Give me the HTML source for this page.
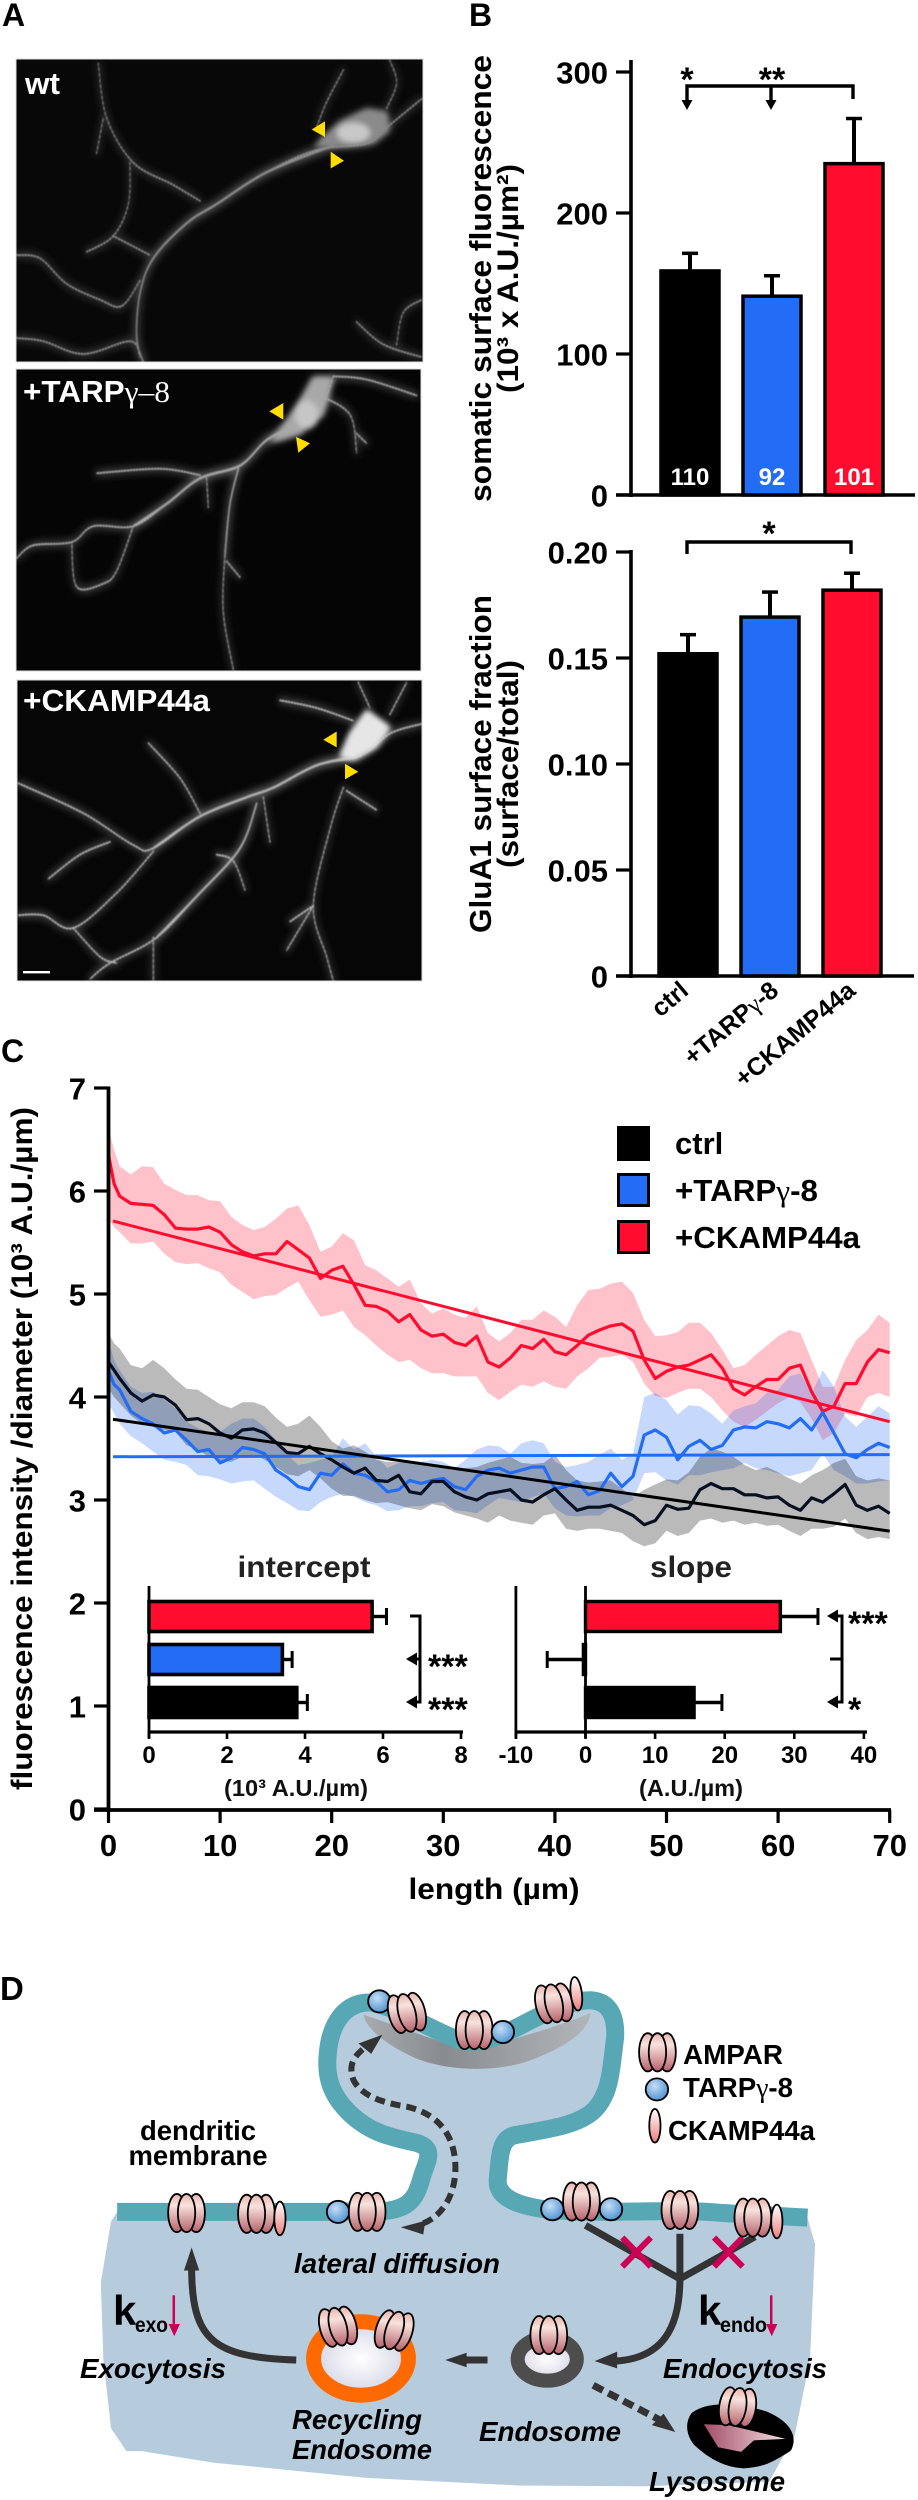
<!DOCTYPE html>
<html lang="en">
<head>
<meta charset="utf-8">
<title>Surface AMPA receptor figure</title>
<style>
html,body{margin:0;padding:0;background:#fff;width:918px;height:2500px;overflow:hidden}
svg{display:block;position:absolute;left:0;top:0}
text{font-family:"Liberation Sans",Arial,sans-serif;font-weight:bold;fill:#000}
.gam{font-family:"Liberation Serif",serif;font-weight:normal}
.ns{vector-effect:non-scaling-stroke}
.ns *{vector-effect:non-scaling-stroke}
</style>
</head>
<body>
<svg id="fig" xmlns="http://www.w3.org/2000/svg" width="918" height="2500" viewBox="0 0 918 2500">
<defs>
  <filter id="blurSoft" x="-10%" y="-10%" width="120%" height="120%"><feGaussianBlur stdDeviation="0.9"/></filter>
  <filter id="blurGlow" x="-10%" y="-10%" width="120%" height="120%"><feGaussianBlur stdDeviation="4"/></filter>
  <filter id="blurSoma" x="-30%" y="-30%" width="160%" height="160%"><feGaussianBlur stdDeviation="2.6"/></filter>
  <clipPath id="clipWt"><rect x="16" y="59" width="407" height="303"/></clipPath>
  <clipPath id="clipTarp"><rect x="16" y="369" width="405" height="302"/></clipPath>
  <clipPath id="clipCk"><rect x="17" y="680" width="405" height="301"/></clipPath>
  <linearGradient id="gAmpar" x1="0" y1="0" x2="0" y2="1"><stop offset="0" stop-color="#e8b4ac"/><stop offset=".3" stop-color="#f8e2dc"/><stop offset="1" stop-color="#b5616a"/></linearGradient>
  <linearGradient id="gCk" x1="0" y1="0" x2="0" y2="1"><stop offset="0" stop-color="#fff"/><stop offset="1" stop-color="#ee7d7d"/></linearGradient>
  <radialGradient id="gTarp" cx=".4" cy=".35" r=".7"><stop offset="0" stop-color="#c4def5"/><stop offset="1" stop-color="#4a8ed0"/></radialGradient>
  <linearGradient id="gPsd" x1="0" y1="0" x2="1" y2="0"><stop offset="0" stop-color="#a8abae"/><stop offset=".35" stop-color="#888c90"/><stop offset="1" stop-color="#b3b6b8"/></linearGradient>
  <radialGradient id="gLumen"><stop offset="0" stop-color="#ffffff"/><stop offset="1" stop-color="#d6d6e6"/></radialGradient>
  <linearGradient id="gLyso" x1="0" y1="0" x2="1" y2="0"><stop offset="0" stop-color="#a34e6a"/><stop offset="1" stop-color="#f4dede"/></linearGradient>
  <g id="ampar" class="ns" stroke="#000" stroke-width="1.8" fill="url(#gAmpar)">
    <ellipse cx="-19" cy="0" rx="17" ry="50"/><ellipse cx="19" cy="0" rx="17" ry="50"/><ellipse cx="0" cy="0" rx="17" ry="50"/>
  </g>
  <ellipse id="ckamp" class="ns" rx="11" ry="44" fill="url(#gCk)" stroke="#000" stroke-width="1.8"/>
  <ellipse id="tarp" class="ns" rx="22" ry="29" fill="url(#gTarp)" stroke="#000" stroke-width="1.8"/>
  <path id="dWt" class="dend" fill="none" stroke-linecap="round" stroke-linejoin="round" d="M1265 155L1160 200L1100 225L950 235L800 270L650 320L560 350L460 405L420 460L410 530L430 568M600 315L520 290L400 255L320 185L295 100M390 255L385 320L340 370L260 395M50 400L120 405L200 445L300 470L365 480L420 440M50 530L130 535L250 555L390 535L420 560M340 370L450 400M290 240L310 185M1170 95L1190 130L1160 170M1030 110L980 160L950 200M1070 505L1150 540L1265 560M1190 540L1210 490L1265 470"/>
  <path id="mWt" class="dend" fill="none" stroke-linecap="round" stroke-linejoin="round" d="M1000 228L800 270L650 320L560 350L460 405L420 460L410 530L430 568"/>
  <path id="dTarp" class="dend" fill="none" stroke-linecap="round" stroke-linejoin="round" d="M1000 590L960 640L880 670L800 690L720 730L600 750L500 790L400 825L280 825L215 850L100 855L50 875M400 825L350 895L310 915L230 920L215 850M715 735L690 790L675 870L670 960L700 1050M600 745L480 735L290 742M1000 590L1100 595L1250 620M960 620L1050 650L1070 710M620 750L625 795M1070 680L1100 695M680 880L720 905"/>
  <path id="mTarp" class="dend" fill="none" stroke-linecap="round" stroke-linejoin="round" d="M880 670L800 690L720 730L600 750L500 790L400 825M715 735L690 790L675 870"/>
  <path id="dCk" class="dend" fill="none" stroke-linecap="round" stroke-linejoin="round" d="M1265 1135L1170 1150L1080 1185L950 1200L820 1235L740 1250L600 1280L460 1330L400 1325L250 1275L55 1228M770 1260L720 1330L600 1400L470 1470L330 1510L270 1535M600 1275L540 1220L445 1165M460 1335L350 1400L220 1455L130 1435L55 1435M220 1455L300 1500L350 1510M330 1320L240 1340L145 1378M1030 1235L990 1300L940 1420L980 1500L1000 1538M940 1420L860 1490M940 1420L870 1445M1075 1070L1110 1110M1170 1120L1220 1070M840 1098L950 1110L1060 1130M790 1250L810 1320M650 1340L700 1350L735 1395M1040 1240L1130 1270M460 1470L460 1538"/>
  <path id="mCk" class="dend" fill="none" stroke-linecap="round" stroke-linejoin="round" d="M1080 1185L950 1200L820 1235L740 1250L600 1280L460 1330M770 1260L720 1330L600 1400L470 1470"/>
</defs>

<rect x="0" y="0" width="918" height="2500" fill="#fff"/>

<!-- PANEL A -->
<text x="2" y="26" font-size="32">A</text>
<g clip-path="url(#clipWt)">
  <rect x="16" y="59" width="407" height="303" fill="#080808"/>
  <g filter="url(#blurGlow)"><g transform="scale(.3333 .6378)" class="ns"><use href="#dWt" stroke="#3a3a3a" stroke-width="9"/><use href="#mWt" stroke="#5a5a5a" stroke-width="12"/><polygon points="950,225 1020,190 1100,170 1160,175 1170,205 1120,225 1030,228" fill="#777"/></g></g>
  <g filter="url(#blurSoft)"><g transform="scale(.3333 .6378)" class="ns"><use href="#dWt" stroke="#6e6e6e" stroke-width="2.4"/><use href="#dWt" stroke="#b0b0b0" stroke-width="3" stroke-dasharray="1 8"/><use href="#mWt" stroke="#8e8e8e" stroke-width="4"/></g></g>
  <g filter="url(#blurSoma)"><g transform="scale(.3333 .6378)" class="ns"><polygon points="940,230 1020,192 1100,172 1160,177 1165,205 1120,224 1030,230" fill="#8a8a8a"/><ellipse cx="1060" cy="208" rx="50" ry="16" fill="#c8c8c8"/></g></g>
  <polygon points="311.7,129.5 325,121.2 325,137" fill="#ffdd00"/>
  <polygon points="344,160.7 330.7,151.8 330.7,168.4" fill="#ffdd00"/>
</g>
<rect x="16" y="59" width="407" height="303" fill="none" stroke="#ddd" stroke-width="1"/>
<text x="25" y="94" font-size="31" style="fill:#fff" textLength="35" lengthAdjust="spacingAndGlyphs">wt</text>

<g clip-path="url(#clipTarp)">
  <rect x="16" y="369" width="405" height="302" fill="#050505"/>
  <g filter="url(#blurGlow)"><g transform="scale(.3333 .6378)" class="ns"><use href="#dTarp" stroke="#484848" stroke-width="9"/><use href="#mTarp" stroke="#666" stroke-width="12"/><polygon points="940,590 1000,590 970,650 900,680 840,690 800,695 860,660 910,620" fill="#888"/></g></g>
  <g filter="url(#blurSoft)"><g transform="scale(.3333 .6378)" class="ns"><use href="#dTarp" stroke="#8a8a8a" stroke-width="2.8"/><use href="#dTarp" stroke="#c4c4c4" stroke-width="3" stroke-dasharray="1 8"/><use href="#mTarp" stroke="#a8a8a8" stroke-width="4"/></g></g>
  <g filter="url(#blurSoma)"><g transform="scale(.3333 .6378)" class="ns"><polygon points="940,592 1000,592 970,650 900,680 840,690 810,692 860,660 910,620" fill="#a8a8a8"/><ellipse cx="920" cy="650" rx="35" ry="22" fill="#c6c6c6"/></g></g>
  <polygon points="269.3,411.4 283.3,403 283.3,419.6" fill="#ffdd00"/>
  <polygon points="310,443.3 296,436.9 298.3,452.8" fill="#ffdd00"/>
</g>
<rect x="16" y="369" width="405" height="302" fill="none" stroke="#ddd" stroke-width="1"/>
<text x="23" y="402" font-size="31" style="fill:#fff" textLength="147" lengthAdjust="spacingAndGlyphs">+TARP<tspan class="gam" style="fill:#fff">γ–8</tspan></text>

<g clip-path="url(#clipCk)">
  <rect x="17" y="680" width="405" height="301" fill="#060606"/>
  <g filter="url(#blurGlow)"><g transform="scale(.3333 .6378)" class="ns"><use href="#dCk" stroke="#505050" stroke-width="9"/><use href="#mCk" stroke="#6c6c6c" stroke-width="12"/><polygon points="1100,1115 1170,1140 1130,1170 1060,1190 1020,1185 1050,1150" fill="#bbb"/></g></g>
  <g filter="url(#blurSoft)"><g transform="scale(.3333 .6378)" class="ns"><use href="#dCk" stroke="#969696" stroke-width="2.8"/><use href="#dCk" stroke="#d4d4d4" stroke-width="3" stroke-dasharray="1 8"/><use href="#mCk" stroke="#b4b4b4" stroke-width="4"/></g></g>
  <g filter="url(#blurSoma)"><g transform="scale(.3333 .6378)" class="ns"><polygon points="1100,1113 1170,1140 1130,1172 1060,1192 1020,1187 1050,1150" fill="#e6e6e6"/></g></g>
  <polygon points="323.3,739.8 336.7,731.5 336.7,747.4" fill="#ffdd00"/>
  <polygon points="358.3,771.7 345,763.8 345,779.4" fill="#ffdd00"/>
  <rect x="23" y="971" width="27" height="2.4" fill="#fff"/>
</g>
<rect x="17" y="680" width="405" height="301" fill="none" stroke="#ddd" stroke-width="1"/>
<text x="23" y="711" font-size="31" style="fill:#fff" textLength="187" lengthAdjust="spacingAndGlyphs">+CKAMP44a</text>

<!-- PANEL B -->
<text x="469" y="26" font-size="32">B</text>
<g id="chartB1"></g>
<g id="chartB2"></g>
<text transform="translate(491,278.5) rotate(-90)" text-anchor="middle" font-size="31" textLength="447" lengthAdjust="spacingAndGlyphs">somatic surface fluorescence</text>
<text transform="translate(518,278.5) rotate(-90)" text-anchor="middle" font-size="30" textLength="229" lengthAdjust="spacingAndGlyphs">(10³ x A.U./µm²)</text>
<text transform="translate(491,764) rotate(-90)" text-anchor="middle" font-size="31" textLength="338" lengthAdjust="spacingAndGlyphs">GluA1 surface fraction</text>
<text transform="translate(518,764) rotate(-90)" text-anchor="middle" font-size="30" textLength="208" lengthAdjust="spacingAndGlyphs">(surface/total)</text>

<!-- PANEL C -->
<text x="1" y="1062" font-size="32">C</text>
<g id="chartC"></g>
<text transform="translate(32,1448.5) rotate(-90)" text-anchor="middle" font-size="30" textLength="683" lengthAdjust="spacingAndGlyphs">fluorescence intensity /diameter (10³ A.U./µm)</text>
<text x="494" y="1899" text-anchor="middle" font-size="30" textLength="171" lengthAdjust="spacingAndGlyphs">length (µm)</text>
<g>
  <rect x="618.5" y="1127.5" width="30" height="32" fill="#000" stroke="#000" stroke-width="3"/>
  <rect x="618.5" y="1174.5" width="30" height="31" fill="#236df6" stroke="#000" stroke-width="3"/>
  <rect x="618.5" y="1221.5" width="30" height="31" fill="#ff0c2f" stroke="#000" stroke-width="3"/>
  <text x="675" y="1154" font-size="31">ctrl</text>
  <text x="675" y="1201" font-size="31" textLength="143" lengthAdjust="spacingAndGlyphs">+TARP<tspan class="gam">γ</tspan>-8</text>
  <text x="675" y="1248" font-size="31" textLength="185" lengthAdjust="spacingAndGlyphs">+CKAMP44a</text>
</g>
<g id="insetI"></g>
<g id="insetS"></g>

<!-- PANEL D -->
<text x="0" y="2000" font-size="33">D</text>
<g transform="translate(60,1900) scale(.5102 .3827)">
  <path fill="#b6cbdb" d="M112 815L520 815L640 812C690 805 700 770 710 720C720 680 735 650 700 635C650 620 610 610 570 560C530 510 520 460 525 400C530 320 560 265 610 268C660 280 720 335 780 365C810 378 840 370 900 330C950 295 1000 262 1040 262C1080 265 1090 310 1088 360C1080 440 1080 500 1050 545C1020 590 950 600 890 615C860 625 862 680 858 730C855 780 900 800 960 810C1100 822 1200 805 1300 818L1465 830L1480 900L1470 1200L1440 1400L1390 1520L1150 1532L900 1530L600 1510L300 1470L160 1440L130 1440L100 1380L85 1200L80 1000L100 840Z"/>
  <path fill="url(#gPsd)" d="M595 300C640 320 700 350 780 385C800 392 830 390 860 375C920 350 980 330 1040 295C1036 345 990 385 920 420C860 448 770 450 700 415C660 392 600 345 595 300Z"/>
  <path class="ns" fill="none" stroke="#57a8b4" stroke-width="18" d="M112 815L520 815L640 812C690 805 700 770 710 720C720 680 735 650 700 635C650 620 610 610 570 560C530 510 520 460 525 400C530 320 560 265 610 268C660 280 720 335 780 365C810 378 840 370 900 330C950 295 1000 262 1040 262C1080 265 1090 310 1088 360C1080 440 1080 500 1050 545C1020 590 950 600 890 615C860 625 862 680 858 730C855 780 900 800 960 810C1100 822 1200 805 1300 818L1465 830"/>

  <g>
    <path class="ns" fill="none" stroke="#333" stroke-width="6" stroke-dasharray="10 6" d="M712 845C750 825 775 770 775 700C775 620 745 560 680 540C630 530 590 510 575 470C565 430 575 410 598 385"/>
    <polygon points="632,352 585,375 610,402" fill="#333"/>
    <polygon points="668,855 716,838 712,874" fill="#333"/>
  </g>
  <g>
    <path class="ns" fill="none" stroke="#333" stroke-width="7" d="M463 1202C300 1195 258 1150 258 960"/>
    <polygon points="258,908 243,968 273,968" fill="#333"/>
  </g>
  <g>
    <path class="ns" fill="none" stroke="#333" stroke-width="7" d="M838 1202L790 1202"/>
    <polygon points="755,1202 797,1183 797,1221" fill="#333"/>
  </g>
  <g>
    <path class="ns" fill="none" stroke="#333" stroke-width="7" d="M1030 850L1215 990L1362 880M1215 872L1215 990C1215 1120 1180 1200 1085 1205"/>
    <polygon points="1048,1205 1092,1180 1092,1224" fill="#333"/>
  </g>
  <g>
    <path class="ns" fill="none" stroke="#333" stroke-width="7" stroke-dasharray="11 6" d="M1045 1268L1175 1358"/>
    <polygon points="1206,1390 1160,1372 1183,1342" fill="#333"/>
  </g>
  <g class="ns" stroke="#cc0055" stroke-width="6" fill="none">
    <path d="M1102 958L1158 882M1102 882L1158 958"/>
    <path d="M1282 958L1338 882M1282 882L1338 958"/>
  </g>
  <g><path class="ns" fill="none" stroke="#cc0055" stroke-width="2.5" d="M223 1033L223 1120"/><polygon points="224,1140 213,1108 235,1108" fill="#cc0055"/></g>
  <g><path class="ns" fill="none" stroke="#cc0055" stroke-width="2.5" d="M1394 1033L1394 1120"/><polygon points="1395,1140 1384,1108 1406,1108" fill="#cc0055"/></g>

  <ellipse class="ns" cx="590" cy="1198" rx="93" ry="96" fill="url(#gLumen)" stroke="#ff6a00" stroke-width="15"/>
  <ellipse class="ns" cx="955" cy="1200" rx="58" ry="56" fill="url(#gLumen)" stroke="#4d4d4d" stroke-width="14"/>
  <g>
    <path class="ns" fill="#000" stroke="#000" stroke-width="10" stroke-linejoin="round" d="M1245 1350C1270 1325 1320 1325 1380 1348C1420 1370 1435 1400 1425 1430C1400 1450 1380 1470 1340 1472C1300 1470 1270 1440 1250 1415C1238 1395 1235 1370 1245 1350Z"/>
    <path fill="url(#gLyso)" d="M1262 1370L1310 1372L1422 1408L1360 1412L1335 1442L1290 1430Z"/>
  </g>

  <use href="#ampar" transform="translate(248 818)"/>
  <use href="#ampar" transform="translate(385 820)"/>
  <use href="#ckamp" transform="translate(431 832)"/>
  <use href="#tarp" transform="translate(545 815)"/>
  <use href="#ampar" transform="translate(602 815)"/>
  <use href="#tarp" transform="translate(626 265)"/>
  <use href="#ampar" transform="translate(680 295) rotate(-10)"/>
  <use href="#ampar" transform="translate(812 340)"/>
  <use href="#tarp" transform="translate(868 345)"/>
  <use href="#ampar" transform="translate(968 270) rotate(-8)"/>
  <use href="#ckamp" transform="translate(1012 245) rotate(-5)"/>
  <use href="#tarp" transform="translate(965 808)"/>
  <use href="#ampar" transform="translate(1022 788)"/>
  <use href="#tarp" transform="translate(1080 808)"/>
  <use href="#ampar" transform="translate(1215 810)"/>
  <use href="#ampar" transform="translate(1358 830)"/>
  <use href="#ckamp" transform="translate(1405 840)"/>
  <use href="#ampar" transform="translate(545 1115) rotate(-10)"/>
  <use href="#ampar" transform="translate(655 1125) rotate(12)"/>
  <use href="#ampar" transform="translate(958 1137)"/>
  <use href="#ampar" transform="translate(1328 1325) rotate(6)"/>
  <use href="#ampar" transform="translate(1171 398)"/>
  <use href="#tarp" transform="translate(1170 495)"/>
  <use href="#ckamp" transform="translate(1166 590)"/>
</g>
<text x="198" y="2140" text-anchor="middle" font-size="28" textLength="116" lengthAdjust="spacingAndGlyphs">dendritic</text>
<text x="198" y="2165" text-anchor="middle" font-size="28" textLength="139" lengthAdjust="spacingAndGlyphs">membrane</text>
<text x="294" y="2273" font-size="28" font-style="italic" textLength="206" lengthAdjust="spacingAndGlyphs">lateral diffusion</text>
<text x="683" y="2064" font-size="28" textLength="100" lengthAdjust="spacingAndGlyphs">AMPAR</text>
<text x="683" y="2097" font-size="28" textLength="110" lengthAdjust="spacingAndGlyphs">TARP<tspan class="gam">γ</tspan>-8</text>
<text x="668" y="2140" font-size="28" textLength="147" lengthAdjust="spacingAndGlyphs">CKAMP44a</text>
<text x="113" y="2325" font-size="42">k</text>
<text x="135" y="2332" font-size="21" textLength="33" lengthAdjust="spacingAndGlyphs">exo</text>
<text x="698" y="2325" font-size="42">k</text>
<text x="720" y="2332" font-size="21" textLength="47" lengthAdjust="spacingAndGlyphs">endo</text>
<text x="80" y="2378" font-size="28" font-style="italic" textLength="146" lengthAdjust="spacingAndGlyphs">Exocytosis</text>
<text x="663" y="2378" font-size="28" font-style="italic" textLength="164" lengthAdjust="spacingAndGlyphs">Endocytosis</text>
<text x="292" y="2429" font-size="28" font-style="italic" textLength="130" lengthAdjust="spacingAndGlyphs">Recycling</text>
<text x="292" y="2459" font-size="28" font-style="italic" textLength="140" lengthAdjust="spacingAndGlyphs">Endosome</text>
<text x="479" y="2441" font-size="28" font-style="italic" textLength="142" lengthAdjust="spacingAndGlyphs">Endosome</text>
<text x="649" y="2491" font-size="28" font-style="italic" textLength="136" lengthAdjust="spacingAndGlyphs">Lysosome</text>
</svg>

<script>
/* ---------- Panel B data ---------- */
const groupColors = ['#000000', '#236df6', '#ff0c2f'];
const groupCounts = ['110', '92', '101'];
const surfaceValues = [158.9, 141, 235];
const surfaceErrors = [12.5, 14.5, 32];
const surfaceTicks = [0, 100, 200, 300];
const surfaceTickLabels = ['0', '100', '200', '300'];
const fractionCategories = ['ctrl', '+TARPγ-8', '+CKAMP44a'];
const fractionValues = [0.152, 0.1693, 0.182];
const fractionErrors = [0.009, 0.0118, 0.008];
const fractionTicks = [0, 0.05, 0.10, 0.15, 0.20];
const fractionTickLabels = ['0', '0.05', '0.10', '0.15', '0.20'];

/* ---------- Panel C data ---------- */
const lengths = [0,0.5,1,2,3,4,5,6,7,8,9,10,11,12,13,14,15,16,17,18,19,20,21,22,23,24,25,26,27,28,29,30,31,32,33,34,35,36,37,38,39,40,41,42,43,44,45,46,47,48,49,50,51,52,53,54,55,56,57,58,59,60,61,62,63,64,65,66,67,68,69,70];
const redMean = [6.35,6.07,5.95,5.88,5.87,5.86,5.77,5.64,5.63,5.63,5.65,5.60,5.48,5.41,5.37,5.39,5.39,5.51,5.43,5.35,5.15,5.23,5.27,5.09,4.89,4.88,4.83,4.73,4.80,4.65,4.59,4.61,4.53,4.50,4.59,4.34,4.29,4.38,4.50,4.47,4.56,4.44,4.41,4.50,4.60,4.65,4.69,4.71,4.64,4.36,4.18,4.25,4.29,4.31,4.36,4.41,4.28,4.08,4.02,4.10,4.17,4.17,4.28,4.31,4.05,3.86,3.91,4.13,4.13,4.34,4.46,4.43];
const redUpper = [6.61,6.40,6.24,6.16,6.24,6.23,6.07,6.01,5.96,5.96,5.91,5.90,5.75,5.67,5.62,5.65,5.73,5.83,5.86,5.67,5.41,5.46,5.59,5.52,5.28,5.23,5.15,5.07,5.14,4.91,4.81,4.86,4.80,4.77,4.88,4.62,4.54,4.62,4.75,4.75,4.84,4.78,4.68,4.89,5.04,5.05,5.10,5.12,5.01,4.75,4.59,4.60,4.63,4.72,4.72,4.62,4.46,4.28,4.31,4.41,4.50,4.59,4.65,4.62,4.36,4.10,4.10,4.36,4.55,4.65,4.80,4.72];
const redLower = [5.73,5.65,5.60,5.49,5.49,5.51,5.39,5.31,5.29,5.30,5.25,5.21,5.09,5.02,4.95,4.98,4.99,5.06,5.12,4.94,4.78,4.80,4.84,4.68,4.60,4.50,4.41,4.34,4.36,4.28,4.23,4.23,4.20,4.20,4.20,4.04,3.97,4.05,4.12,4.10,4.15,4.10,4.08,4.20,4.28,4.38,4.39,4.41,4.34,4.13,4.01,3.99,4.04,4.08,4.08,4.00,3.87,3.76,3.71,3.78,3.86,3.94,4.00,3.95,3.79,3.58,3.65,3.84,3.81,4.00,4.04,4.00];
const blueMean = [4.25,4.12,4.07,3.86,3.79,3.74,3.65,3.68,3.58,3.47,3.49,3.36,3.41,3.51,3.49,3.45,3.29,3.22,3.13,3.10,3.26,3.24,3.35,3.26,3.24,3.18,3.08,3.10,3.19,3.16,3.19,3.21,3.13,3.10,3.23,3.29,3.31,3.26,3.29,3.32,3.32,3.11,3.13,3.18,3.05,3.09,3.26,3.13,3.23,3.63,3.68,3.61,3.39,3.52,3.58,3.49,3.53,3.68,3.71,3.70,3.76,3.74,3.70,3.79,3.68,3.85,3.65,3.45,3.41,3.49,3.55,3.51];
const blueUpper = [4.55,4.36,4.26,4.10,4.04,4.05,3.97,3.89,3.76,3.70,3.66,3.66,3.74,3.79,3.79,3.71,3.58,3.44,3.34,3.36,3.39,3.42,3.60,3.49,3.55,3.42,3.31,3.36,3.37,3.37,3.39,3.37,3.31,3.39,3.49,3.53,3.52,3.45,3.55,3.58,3.55,3.37,3.32,3.34,3.37,3.44,3.50,3.39,3.45,4.00,4.04,3.97,3.83,3.92,3.91,3.84,3.74,3.87,3.91,3.94,4.04,4.07,4.20,4.23,4.04,4.26,4.10,3.81,3.71,3.81,3.91,3.84];
const blueLower = [3.94,3.84,3.74,3.62,3.55,3.47,3.39,3.37,3.34,3.24,3.23,3.20,3.16,3.18,3.19,3.11,3.03,2.97,2.90,2.89,2.98,3.03,3.06,3.03,2.98,2.95,2.89,2.90,2.94,2.94,2.97,2.98,2.90,2.89,2.87,2.95,3.02,3.00,2.98,3.03,3.06,2.92,2.85,2.84,2.85,2.85,2.92,2.95,3.00,3.26,3.27,3.19,3.15,3.24,3.24,3.27,3.29,3.31,3.36,3.31,3.29,3.26,3.23,3.26,3.29,3.45,3.29,3.23,3.16,3.16,3.18,3.19];
const blackMean = [4.34,4.26,4.18,4.04,3.96,4.02,4.00,3.92,3.78,3.79,3.74,3.65,3.60,3.68,3.69,3.65,3.56,3.46,3.45,3.52,3.45,3.39,3.32,3.26,3.31,3.19,3.18,3.24,3.08,3.06,3.18,3.18,3.08,3.03,3.00,3.06,3.08,3.10,3.00,2.98,3.05,3.11,3.00,2.90,2.93,2.93,2.95,2.90,2.85,2.76,2.80,2.95,2.91,2.92,3.10,3.16,3.11,3.11,3.05,3.05,3.02,3.03,2.95,2.90,3.02,2.98,3.06,3.15,2.95,2.90,2.94,2.87];
const blackUpper = [4.62,4.52,4.47,4.31,4.28,4.36,4.28,4.17,4.08,4.07,4.00,3.93,3.89,3.95,3.95,3.91,3.80,3.71,3.74,3.82,3.71,3.57,3.50,3.53,3.47,3.39,3.37,3.37,3.36,3.34,3.34,3.32,3.29,3.31,3.32,3.36,3.39,3.42,3.36,3.35,3.36,3.44,3.29,3.19,3.17,3.18,3.19,3.11,3.03,3.10,3.15,3.20,3.19,3.27,3.42,3.50,3.47,3.42,3.34,3.29,3.32,3.27,3.21,3.16,3.24,3.29,3.36,3.40,3.23,3.19,3.21,3.19];
const blackLower = [4.08,4.00,3.94,3.82,3.74,3.71,3.68,3.66,3.53,3.49,3.42,3.38,3.37,3.42,3.44,3.39,3.32,3.25,3.23,3.29,3.21,3.11,3.04,3.04,3.00,2.97,2.98,2.95,2.92,2.90,2.96,2.94,2.88,2.85,2.82,2.78,2.85,2.80,2.78,2.76,2.85,2.87,2.72,2.70,2.72,2.72,2.70,2.68,2.60,2.55,2.58,2.70,2.65,2.68,2.80,2.82,2.78,2.80,2.76,2.78,2.75,2.76,2.70,2.65,2.72,2.72,2.74,2.82,2.68,2.62,2.64,2.62];
const yTicksC = [0, 1, 2, 3, 4, 5, 6, 7];
const xTicksC = [0, 10, 20, 30, 40, 50, 60, 70];

/* ---------- Inset data (drawn top-to-bottom: red, blue, black) ---------- */
const insetColors = ['#ff0c2f', '#236df6', '#000000'];
const interceptValues = [5.72, 3.42, 3.79];
const interceptErrors = [0.37, 0.25, 0.27];
const slopeValues = [28, -0.3, 15.6];
const slopeErrors = [5.4, 5.2, 4];
const interceptTicks = [0, 2, 4, 6, 8];
const slopeTicks = [-10, 0, 10, 20, 30, 40];

/* ---------- helpers ---------- */
const NS = 'http://www.w3.org/2000/svg';
function add(parent, tag, attrs, txt) {
  const e = document.createElementNS(NS, tag);
  for (const k in attrs) e.setAttribute(k, attrs[k]);
  if (txt !== undefined) e.textContent = txt;
  parent.appendChild(e);
  return e;
}
function line(parent, x1, y1, x2, y2, w, color) {
  return add(parent, 'line', {x1: x1, y1: y1, x2: x2, y2: y2, stroke: color || '#000', 'stroke-width': w});
}
function pts(arr) { return arr.map(p => p[0].toFixed(1) + ',' + p[1].toFixed(1)).join(' '); }
function arrowLeft(parent, tipX, y) {
  return add(parent, 'polygon', {points: tipX + ',' + y + ' ' + (tipX + 11) + ',' + (y - 6.5) + ' ' + (tipX + 11) + ',' + (y + 6.5), fill: '#000'});
}
function arrowDown(parent, x, tipY) {
  return add(parent, 'polygon', {points: x + ',' + tipY + ' ' + (x - 5.5) + ',' + (tipY - 10) + ' ' + (x + 5.5) + ',' + (tipY - 10), fill: '#000'});
}
function stars(parent, x, cy, s, anchor) {
  return add(parent, 'text', {x: x, y: cy + 18, 'font-size': 34, 'text-anchor': anchor || 'middle'}, s);
}

/* smooth the dendrite paths of the micrographs (Catmull-Rom) */
document.querySelectorAll('path.dend').forEach(p => {
  const subs = p.getAttribute('d').split('M').filter(Boolean);
  let out = '';
  subs.forEach(s => {
    const q = s.split('L').map(t => t.trim().split(/\s+/).map(Number));
    out += 'M' + q[0][0] + ' ' + q[0][1];
    for (let i = 0; i < q.length - 1; i++) {
      const a = q[Math.max(i - 1, 0)], b = q[i], d = q[i + 1], e = q[Math.min(i + 2, q.length - 1)];
      out += 'C' + (b[0] + (d[0] - a[0]) / 6).toFixed(1) + ' ' + (b[1] + (d[1] - a[1]) / 6).toFixed(1) + ' ' +
             (d[0] - (e[0] - b[0]) / 6).toFixed(1) + ' ' + (d[1] - (e[1] - b[1]) / 6).toFixed(1) + ' ' + d[0] + ' ' + d[1];
    }
  });
  p.setAttribute('d', out);
});

/* ---------- Chart B1 ---------- */
const b1 = document.getElementById('chartB1');
const yB1 = v => 495 - v * 1.41;
const xB1 = i => 690 + i * 82;
const b1AxisY = line(b1, 631, 60, 631, 497, 3.6);


const b1AxisX = line(b1, 616, 495, 915, 495, 3.4);


surfaceTicks.forEach((t, i) => {
  const tk = line(b1, 616, yB1(t), 631, yB1(t), 3.2);
  
  
  const lb = add(b1, 'text', {x: 608, y: yB1(t) + 11.5, 'font-size': 31, 'text-anchor': 'end'}, surfaceTickLabels[i]);
  
  
});
surfaceValues.forEach((v, i) => {
  const cx = xB1(i), top = yB1(v);
  const eb = line(b1, cx, yB1(v + surfaceErrors[i]), cx, top, 4);
  
  
  const cap = line(b1, cx - 8, yB1(v + surfaceErrors[i]), cx + 8, yB1(v + surfaceErrors[i]), 3.5);
  
  
  const bar = add(b1, 'rect', {x: cx - 29, y: top, width: 58, height: 495 - top, fill: groupColors[i], stroke: '#000', 'stroke-width': 3.5});
  
  
  const n = add(b1, 'text', {x: cx, y: 485, 'font-size': 24, 'text-anchor': 'middle', style: 'fill:#fff'}, groupCounts[i]);
  
  
});
const b1Sig = add(b1, 'g', {});


add(b1Sig, 'path', {d: 'M687 100L687 86L853 86L853 99M771 86L771 102', fill: 'none', stroke: '#000', 'stroke-width': 3.4});
arrowDown(b1Sig, 687, 110);
arrowDown(b1Sig, 771, 110);
stars(b1Sig, 687, 73, '*');
stars(b1Sig, 772, 73, '**');

/* ---------- Chart B2 ---------- */
const b2 = document.getElementById('chartB2');
const yB2 = v => 976 - v * 2120;
const xB2 = i => 688 + i * 82;
const b2AxisY = line(b2, 631, 550, 631, 978, 3.6);


const b2AxisX = line(b2, 616, 976, 914, 976, 3.4);


fractionTicks.forEach((t, i) => {
  const tk = line(b2, 616, yB2(t), 631, yB2(t), 3.2);
  
  
  const lb = add(b2, 'text', {x: 608, y: yB2(t) + 11.5, 'font-size': 31, 'text-anchor': 'end'}, fractionTickLabels[i]);
  
  
});
fractionValues.forEach((v, i) => {
  const cx = xB2(i), top = yB2(v);
  const eb = line(b2, cx, yB2(v + fractionErrors[i]), cx, top, 4);
  
  
  const cap = line(b2, cx - 8, yB2(v + fractionErrors[i]), cx + 8, yB2(v + fractionErrors[i]), 3.5);
  
  
  const bar = add(b2, 'rect', {x: cx - 29, y: top, width: 58, height: 976 - top, fill: groupColors[i], stroke: '#000', 'stroke-width': 3.5});
  
  
  const lx = cx + 2 + (i === 0 ? 0 : i === 1 ? 8 : 3), ly = 993;
  const lab = add(b2, 'text', {transform: 'translate(' + lx + ',' + ly + ') rotate(-40)', 'font-size': 25, 'text-anchor': 'end'});
  
  
  const parts = fractionCategories[i].split('γ');
  add(lab, 'tspan', {}, parts[0]);
  if (parts.length > 1) { add(lab, 'tspan', {class: 'gam'}, 'γ'); add(lab, 'tspan', {}, parts[1]); }
});
const b2Sig = add(b2, 'g', {});


add(b2Sig, 'path', {d: 'M687 554L687 542L851 542L851 554', fill: 'none', stroke: '#000', 'stroke-width': 3.4});
stars(b2Sig, 769, 527, '*');

/* ---------- Chart C ---------- */
const c = document.getElementById('chartC');
const xC = u => 108.5 + u * 11.16;
const yC = v => 1809 - v * 103;
function band(upper, lower, color, op, name) {
  const top = lengths.map((u, i) => [xC(u), yC(upper[i])]);
  const bot = lengths.map((u, i) => [xC(u), yC(lower[i])]).reverse();
  const p = add(c, 'polygon', {points: pts(top.concat(bot)), fill: color, 'fill-opacity': op});
  
  
}
function series(vals, color, name, op) {
  const p = add(c, 'polyline', {points: pts(lengths.map((u, i) => [xC(u), yC(vals[i])])), fill: 'none', stroke: color, 'stroke-width': 3.2, 'stroke-linejoin': 'round', 'stroke-opacity': op || 1});
  
  
}
function fit(intercept, slope, color, w, name) {
  const p = add(c, 'line', {x1: xC(0.4), y1: yC(intercept - slope * 0.4 / 1000), x2: xC(70), y2: yC(intercept - slope * 70 / 1000), stroke: color, 'stroke-width': w});
  
  
}
band(redUpper, redLower, '#ff0c2f', 0.25, 'ckamp-sem-band');
band(blueUpper, blueLower, '#236df6', 0.26, 'tarp-sem-band');
band(blackUpper, blackLower, '#000000', 0.27, 'ctrl-sem-band');
series(redMean, '#ff0c2f', 'ckamp-mean-line');
series(blueMean, '#236df6', 'tarp-mean-line');
series(blackMean, '#061020', 'ctrl-mean-line');
fit(interceptValues[0], slopeValues[0], '#ff0c2f', 3, 'ckamp-fit-line');
fit(interceptValues[1], slopeValues[1], '#236df6', 3, 'tarp-fit-line');
fit(interceptValues[2], slopeValues[2], '#000000', 3, 'ctrl-fit-line');
const cAxisY = line(c, 108.5, 1086.5, 108.5, 1812, 3.8);


const cAxisX = line(c, 94, 1810, 891, 1810, 3.8);


yTicksC.forEach(t => {
  const tk = line(c, 94, yC(t), 108.5, yC(t), 3.2);
  
  
  const lb = add(c, 'text', {x: 86, y: yC(t) + 11.5, 'font-size': 31, 'text-anchor': 'end'}, String(t));
  
  
});
xTicksC.forEach(t => {
  const tk = line(c, xC(t), 1810, xC(t), 1823, 3.2);
  
  
  const lb = add(c, 'text', {x: xC(t), y: 1856, 'font-size': 31, 'text-anchor': 'middle'}, String(t));
  
  
});

/* ---------- Inset: intercept ---------- */
const insI = document.getElementById('insetI');
const xI = v => 149 + v * 39;
const rowY = i => 1616.5 + i * 43;
const iAxisY = line(insI, 149, 1586, 149, 1738, 2.8);


const iAxisX = line(insI, 147.6, 1732, 463, 1732, 3.2);


interceptTicks.forEach(t => {
  const tk = line(insI, xI(t), 1732, xI(t), 1739, 2.6);
  
  
  const lb = add(insI, 'text', {x: xI(t), y: 1763, 'font-size': 24, 'text-anchor': 'middle'}, String(t));
  
  
});
interceptValues.forEach((v, i) => {
  const y = rowY(i);
  const eb = line(insI, xI(v), y, xI(v + interceptErrors[i]), y, 3.4);
  
  
  const cap = line(insI, xI(v + interceptErrors[i]), y - 8.5, xI(v + interceptErrors[i]), y + 8.5, 3);
  
  
  const bar = add(insI, 'rect', {x: xI(0), y: y - 15, width: xI(v) - xI(0), height: 30, fill: insetColors[i], stroke: '#000', 'stroke-width': 3.6});
  
  
});
const iSig = add(insI, 'g', {});


add(iSig, 'path', {d: 'M410 1616L420 1616L420 1702L412 1702M420 1659L412 1659', fill: 'none', stroke: '#000', 'stroke-width': 3});
arrowLeft(iSig, 406, 1659);
arrowLeft(iSig, 406, 1702);
stars(iSig, 428, 1660, '***', 'start');
stars(iSig, 428, 1703, '***', 'start');
const iTitle = add(insI, 'text', {x: 304, y: 1577, 'font-size': 30, 'text-anchor': 'middle', textLength: 133, lengthAdjust: 'spacingAndGlyphs', style: 'fill:#222'}, 'intercept');


const iUnit = add(insI, 'text', {x: 296, y: 1796, 'font-size': 23, 'text-anchor': 'middle', textLength: 144, lengthAdjust: 'spacingAndGlyphs', style: 'fill:#111'}, '(10³ A.U./µm)');



/* ---------- Inset: slope ---------- */
const insS = document.getElementById('insetS');
const xS = v => 585.5 + v * 6.96;
const sAxisY = line(insS, xS(-10), 1586, xS(-10), 1738, 2.8);


const sZero = line(insS, xS(0), 1586, xS(0), 1738, 2.8);


const sAxisX = line(insS, 514.6, 1732, 867, 1732, 3.2);


slopeTicks.forEach(t => {
  const tk = line(insS, xS(t), 1732, xS(t), 1739, 2.6);
  
  
  const lb = add(insS, 'text', {x: xS(t), y: 1763, 'font-size': 24, 'text-anchor': 'middle'}, String(t));
  
  
});
slopeValues.forEach((v, i) => {
  const y = rowY(i);
  const dir = v < 0 ? -1 : 1;
  const end = v + dir * slopeErrors[i];
  const eb = line(insS, xS(v), y, xS(end), y, 3.4);
  
  
  const cap = line(insS, xS(end), y - 8.5, xS(end), y + 8.5, 3);
  
  
  const bar = add(insS, 'rect', {x: Math.min(xS(0), xS(v)), y: y - 15, width: Math.abs(xS(v) - xS(0)), height: 30, fill: insetColors[i], stroke: '#000', 'stroke-width': 3.4});
  
  
});
const sSig = add(insS, 'g', {});


add(sSig, 'path', {d: 'M833 1616L842 1616L842 1702L833 1702M842 1659L830 1659', fill: 'none', stroke: '#000', 'stroke-width': 3});
arrowLeft(sSig, 827, 1616);
arrowLeft(sSig, 827, 1702);
stars(sSig, 848, 1617, '***', 'start');
stars(sSig, 848, 1703, '*', 'start');
const sTitle = add(insS, 'text', {x: 691, y: 1577, 'font-size': 30, 'text-anchor': 'middle', textLength: 82, lengthAdjust: 'spacingAndGlyphs', style: 'fill:#222'}, 'slope');


const sUnit = add(insS, 'text', {x: 691, y: 1796, 'font-size': 23, 'text-anchor': 'middle', textLength: 104, lengthAdjust: 'spacingAndGlyphs', style: 'fill:#111'}, '(A.U./µm)');


</script>
</body>
</html>
